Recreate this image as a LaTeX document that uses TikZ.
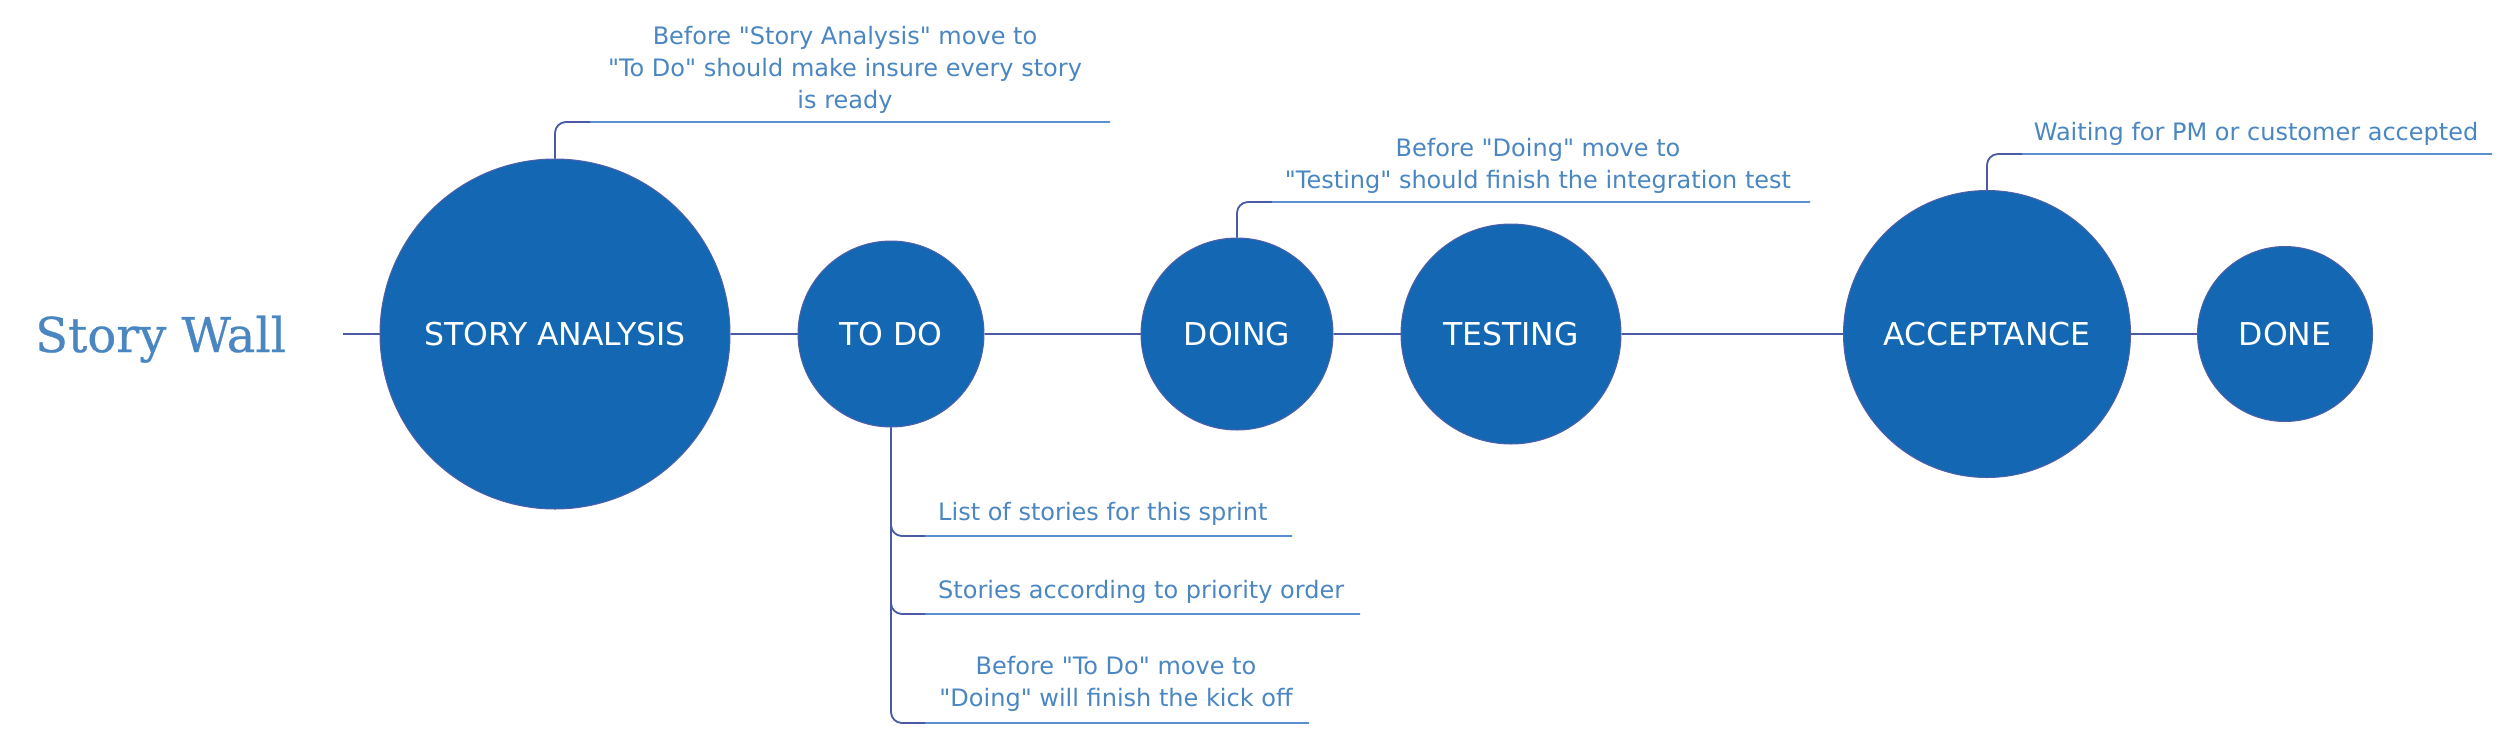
\documentclass[tikz,border=0pt]{standalone}
\usepackage{fontspec}
\setmainfont{DejaVu Sans}
\newfontfamily\notefont{DejaVu Sans}[Ligatures=ResetAll]
\newfontfamily\slabfont{DejaVu Serif}[FakeBold=0.6]
\definecolor{circfill}{RGB}{20,103,178}
\definecolor{circedge}{RGB}{80,96,168}
\definecolor{mainline}{RGB}{75,90,163}
\definecolor{underl}{RGB}{90,143,208}
\definecolor{notecol}{RGB}{74,134,193}
\tikzset{
  stage/.style={circle, fill=circfill, draw=circedge, line width=1pt, inner sep=0pt, text=white, font=\fontsize{31.5}{36}\selectfont},
  conn/.style={draw=mainline, line width=2.5pt},
  stemline/.style={draw=mainline, line width=1.6pt, rounded corners=11pt},
  ulinel/.style={draw=underl, line width=1.6pt, rounded corners=11pt},
  note/.style={text=notecol, inner sep=0pt, align=center, font=\notefont\fontsize{24}{32}\selectfont}
}
\begin{document}
\begin{tikzpicture}[x=1pt, y=-1pt]
\useasboundingbox (0,0) rectangle (2502,732);
% title
\node[anchor=base west, inner sep=0pt, text=notecol, font=\slabfont\fontsize{48}{56}\selectfont] (title) at (35,352) {Story Wall};
\coordinate (start) at (343,334);
% stages
\node[stage, minimum size=350pt] (sa) at (555,334) {STORY ANALYSIS};
\node[stage, minimum size=186pt] (todo) at (891,334) {TO DO};
\node[stage, minimum size=192pt] (doing) at (1237,334) {DOING};
\node[stage, minimum size=220pt] (testing) at (1511,334) {TESTING};
\node[stage, minimum size=287pt] (acc) at (1987,334) {ACCEPTANCE};
\node[stage, minimum size=175pt] (done) at (2285,334) {DONE};
% connectors
\draw[conn] (start) -- (sa.west);
\draw[conn] (sa.east) -- (todo.west);
\draw[conn] (todo.east) -- (doing.west);
\draw[conn] (doing.east) -- (testing.west);
\draw[conn] (testing.east) -- (acc.west);
\draw[conn] (acc.east) -- (done.west);
% note: story analysis
\coordinate (u1) at (1110,122);
\coordinate (u1a) at (590,122);
\draw[ulinel] (sa.north) |- (u1);
\draw[stemline] (sa.north) |- (u1a);
\node[note] (n1) at (845,70) {Before "Story Analysis" move to\\"To Do" should make insure every story\\is ready};
% note: doing
\coordinate (u2) at (1810,202);
\coordinate (u2a) at (1272,202);
\draw[ulinel] (doing.north) |- (u2);
\draw[stemline] (doing.north) |- (u2a);
\node[note] (n2) at (1538,165.5) {Before "Doing" move to\\"Testing" should finish the integration test};
% note: acceptance
\coordinate (u3) at (2492,154);
\coordinate (u3a) at (2022,154);
\draw[ulinel] (acc.north) |- (u3);
\draw[stemline] (acc.north) |- (u3a);
\node[note] (n3) at (2256,133.5) {Waiting for PM or customer accepted};
% notes below TO DO
\coordinate (b1) at (1292,536);
\coordinate (b1a) at (925,536);
\coordinate (b2) at (1360,614);
\coordinate (b2a) at (925,614);
\coordinate (b3) at (1309,723);
\coordinate (b3a) at (925,723);
\draw[ulinel] (todo.south) |- (b1);
\draw[ulinel] (todo.south) |- (b2);
\draw[ulinel] (todo.south) |- (b3);
\draw[stemline] (todo.south) |- (b1a);
\draw[stemline] (todo.south) |- (b2a);
\draw[stemline] (todo.south) |- (b3a);
\node[note, anchor=west] (n4) at (938,514) {List of stories for this sprint};
\node[note, anchor=west] (n5) at (938,592) {Stories according to priority order};
\node[note] (n6) at (1116,684) {Before "To Do" move to\\"Doing" will finish the kick off};
\end{tikzpicture}
\end{document}
